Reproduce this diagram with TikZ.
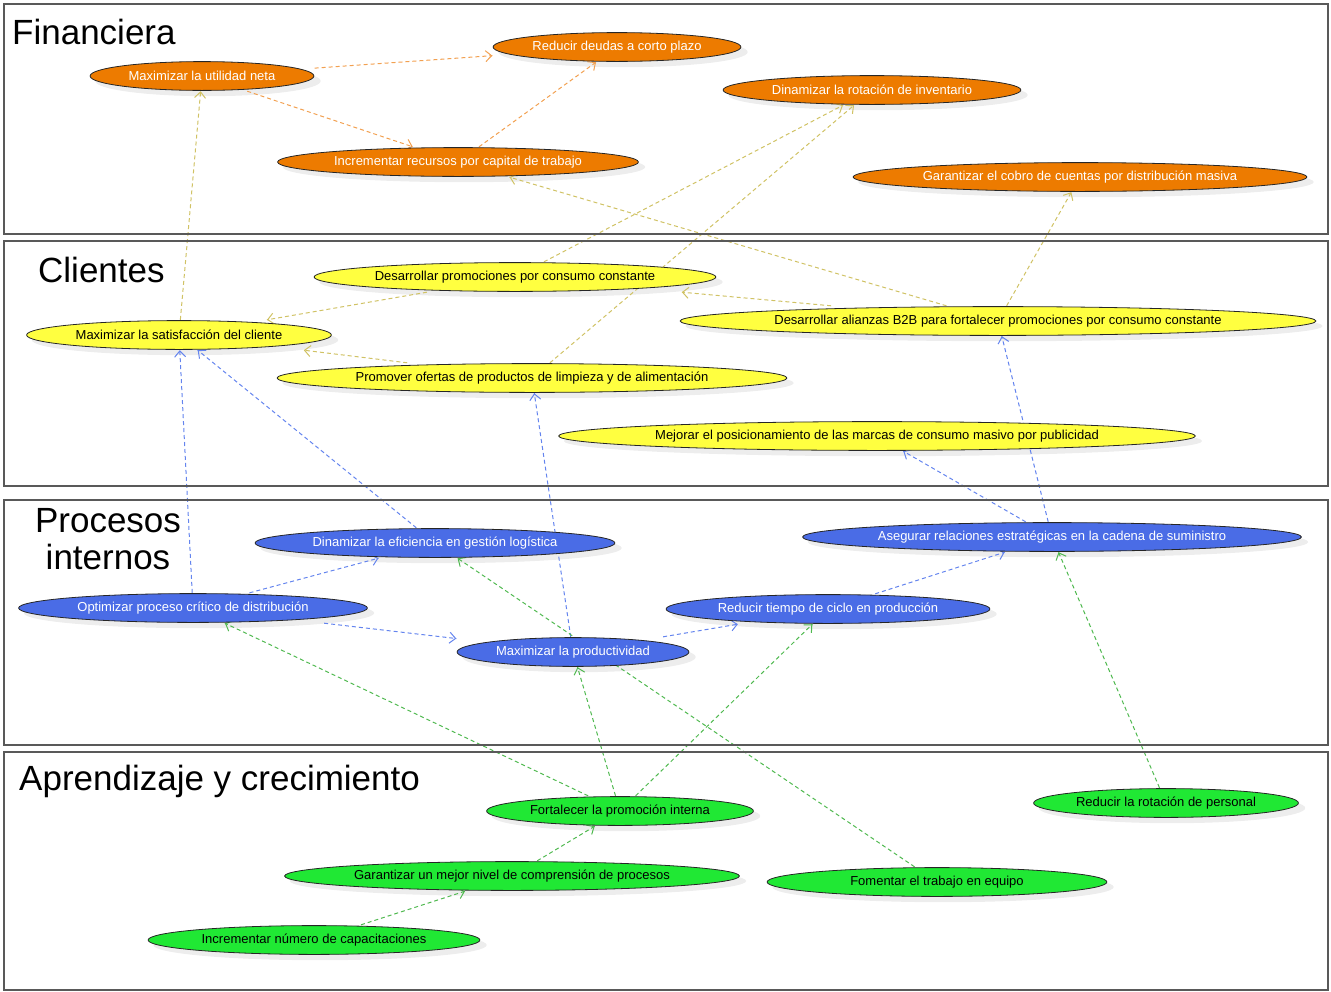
\documentclass[tikz,border=0pt]{standalone}
\usepackage{fontspec}
\setmainfont{Liberation Sans}
\usepackage{xcolor}
\usetikzlibrary{arrows.meta, calc, backgrounds, decorations.markings}

\pgfdeclarelayer{sombras}
\pgfsetlayers{sombras,background,main}

\definecolor{finfill}{RGB}{237,123,0}
\definecolor{clifill}{RGB}{255,255,64}
\definecolor{profill}{RGB}{74,108,230}
\definecolor{aprfill}{RGB}{32,232,52}
\definecolor{finline}{RGB}{242,160,80}
\definecolor{cliline}{RGB}{208,194,100}
\definecolor{proline}{RGB}{100,132,238}
\definecolor{aprline}{RGB}{80,185,80}

\tikzset{ovalo/.style={path picture={\draw[line width=0.8pt, draw=black!85, fill=#1] let \p1 = ($(path picture bounding box.north east)-(path picture bounding box.south west)$) in (path picture bounding box.center) ellipse [x radius=0.5*\x1-0.6pt, y radius=0.5*\y1-0.6pt];}}}

\tikzstyle{objetivo} = [rectangle, inner sep=0pt, minimum height=30pt, font=\fontsize{13}{15}\selectfont]
\tikzstyle{fin} = [objetivo, ovalo=finfill, text=white]
\tikzstyle{cli} = [objetivo, ovalo=clifill, text=black]
\tikzstyle{pro} = [objetivo, ovalo=profill, text=white]
\tikzstyle{apr} = [objetivo, ovalo=aprfill, text=black]
\tikzstyle{sombra} = [fill=black!7]
\tikzstyle{panel} = [draw=black!65, line width=1.5pt]
\tikzstyle{titulo} = [font=\fontsize{35}{37}\selectfont, anchor=base west, inner sep=0pt]
\tikzstyle{arrow} = [dash pattern=on 4pt off 3pt, line width=1pt, postaction={decorate, decoration={markings, mark=at position 1 with {\arrow[solid, line width=1pt]{Straight Barb[length=6pt, width=11pt]}}}}]

\begin{document}
\begin{tikzpicture}[x=1pt, y=-1pt]
    \useasboundingbox (0,0) rectangle (1331,991);

    % perspectivas
    \draw[panel] (4,4) rectangle (1328,234);
    \draw[panel] (4,241) rectangle (1328,486);
    \draw[panel] (4,500) rectangle (1328,745);
    \draw[panel] (4,752) rectangle (1328,990);

    \node[titulo] (financiera) at (12,44) {Financiera};
    \node[titulo] (clientes) at (38,282) {Clientes};
    \node[titulo, anchor=north, align=center] (procesos) at (108,508) {Procesos\\internos};
    \node[titulo] (aprendizaje) at (19,790) {Aprendizaje y crecimiento};

    % financiera
    \node[fin, minimum width=225pt] (utilidad) at (202,76) {Maximizar la utilidad neta};
    \node[fin, minimum width=249pt] (deudas) at (617,47) {Reducir deudas a corto plazo};
    \node[fin, minimum width=299pt] (inventario) at (872,90) {Dinamizar la rotación de inventario};
    \node[fin, minimum width=362pt] (recursos) at (458,162) {Incrementar recursos por capital de trabajo};
    \node[fin, minimum width=455pt] (cobro) at (1080,177) {Garantizar el cobro de cuentas por distribución masiva};

    % clientes
    \node[cli, minimum width=403pt] (promociones) at (515,277) {Desarrollar promociones por consumo constante};
    \node[cli, minimum width=306pt] (satisfaccion) at (179,335) {Maximizar la satisfacción del cliente};
    \node[cli, minimum width=637pt] (alianzas) at (998,321) {Desarrollar alianzas B2B para fortalecer promociones por consumo constante};
    \node[cli, minimum width=511pt] (ofertas) at (532,378) {Promover ofertas de productos de limpieza y de alimentación};
    \node[cli, minimum width=638pt] (posicionamiento) at (877,436) {Mejorar el posicionamiento de las marcas de consumo masivo por publicidad};

    % procesos internos
    \node[pro, minimum width=361pt] (eficiencia) at (435,543) {Dinamizar la eficiencia en gestión logística};
    \node[pro, minimum width=500pt] (cadena) at (1052,537) {Asegurar relaciones estratégicas en la cadena de suministro};
    \node[pro, minimum width=350pt] (optimizar) at (193,608) {Optimizar proceso crítico de distribución};
    \node[pro, minimum width=325pt] (ciclo) at (828,609) {Reducir tiempo de ciclo en producción};
    \node[pro, minimum width=233pt] (productividad) at (573,652) {Maximizar la productividad};

    % aprendizaje y crecimiento
    \node[apr, minimum width=268pt] (promocion) at (620,811) {Fortalecer la promoción interna};
    \node[apr, minimum width=266pt] (rotacion) at (1166,803) {Reducir la rotación de personal};
    \node[apr, minimum width=456pt] (comprension) at (512,876) {Garantizar un mejor nivel de comprensión de procesos};
    \node[apr, minimum width=341pt] (equipo) at (937,882) {Fomentar el trabajo en equipo};
    \node[apr, minimum width=333pt] (capacitaciones) at (314,940) {Incrementar número de capacitaciones};

    % sombras
    \begin{pgfonlayer}{sombras}
    \foreach \obj in {utilidad, deudas, inventario, recursos, cobro, promociones, satisfaccion, alianzas, ofertas, posicionamiento, eficiencia, cadena, optimizar, ciclo, productividad, promocion, rotacion, comprension, equipo, capacitaciones}
        \fill[sombra] let \p1 = ($(\obj.east)-(\obj.west)$), \p2 = ($(\obj.north)-(\obj.south)$) in ([shift={(6pt,-5pt)}]\obj.center) ellipse [x radius=0.5*\x1, y radius=0.5*\y2];
    \end{pgfonlayer}

    \begin{pgfonlayer}{background}
    \draw[arrow, finline] (utilidad) -- (deudas);
    \draw[arrow, finline] (utilidad) -- (recursos);
    \draw[arrow, finline] (recursos) -- (deudas);

    \draw[arrow, cliline] (satisfaccion) -- (utilidad);
    \draw[arrow, cliline] (promociones) -- (satisfaccion);
    \draw[arrow, cliline] (promociones) -- (inventario);
    \draw[arrow, cliline] (ofertas) -- (inventario);
    \draw[arrow, cliline] (ofertas) -- (satisfaccion);
    \draw[arrow, cliline] (alianzas) -- (recursos);
    \draw[arrow, cliline] (alianzas) -- (promociones);
    \draw[arrow, cliline] (alianzas) -- (cobro);

    \draw[arrow, proline] (optimizar) -- (satisfaccion);
    \draw[arrow, proline] (eficiencia) -- (satisfaccion);
    \draw[arrow, proline] (productividad) -- (ofertas);
    \draw[arrow, proline] (cadena) -- (alianzas);
    \draw[arrow, proline] (cadena) -- (posicionamiento);
    \draw[arrow, proline] (optimizar) -- (eficiencia);
    \draw[arrow, proline] (optimizar) -- (productividad);
    \draw[arrow, proline] (productividad) -- (ciclo);
    \draw[arrow, proline] (ciclo) -- (cadena);

    \draw[arrow, aprline] (promocion) -- (optimizar);
    \draw[arrow, aprline] (promocion) -- (productividad);
    \draw[arrow, aprline] (promocion) -- (ciclo);
    \draw[arrow, aprline] (equipo) -- (eficiencia);
    \draw[arrow, aprline] (rotacion) -- (cadena);
    \draw[arrow, aprline] (capacitaciones) -- (comprension);
    \draw[arrow, aprline] (comprension) -- (promocion);
    \end{pgfonlayer}
\end{tikzpicture}
\end{document}
